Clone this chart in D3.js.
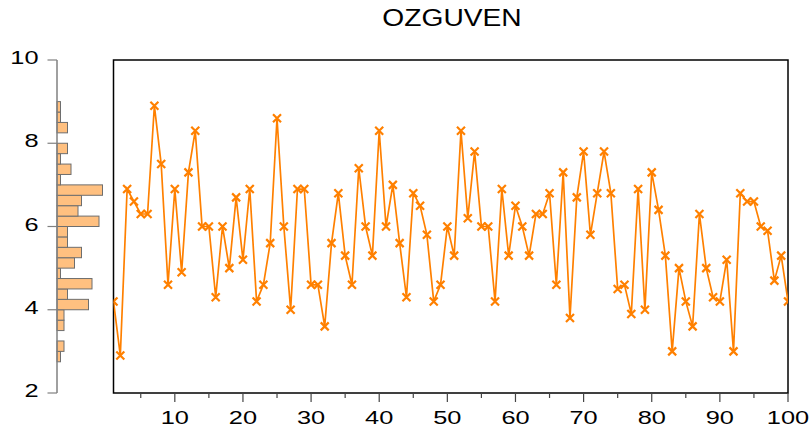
<!DOCTYPE html>
<html>
<head>
<meta charset="utf-8">
<script src="https://cdn.jsdelivr.net/npm/d3@7"></script>
<style>
  body { margin: 0; background: #fff; }
  text { font-family: "Liberation Sans", Arial, sans-serif; fill: #000; }
</style>
</head>
<body>
<script>
const TITLE = "OZGUVEN";

const ozguven = [
  4.2, 2.9, 6.9, 6.6, 6.3, 6.3, 8.9, 7.5, 4.6, 6.9,
  4.9, 7.3, 8.3, 6.0, 6.0, 4.3, 6.0, 5.0, 6.7, 5.2,
  6.9, 4.2, 4.6, 5.6, 8.6, 6.0, 4.0, 6.9, 6.9, 4.6,
  4.6, 3.6, 5.6, 6.8, 5.3, 4.6, 7.4, 6.0, 5.3, 8.3,
  6.0, 7.0, 5.6, 4.3, 6.8, 6.5, 5.8, 4.2, 4.6, 6.0,
  5.3, 8.3, 6.2, 7.8, 6.0, 6.0, 4.2, 6.9, 5.3, 6.5,
  6.0, 5.3, 6.3, 6.3, 6.8, 4.6, 7.3, 3.8, 6.7, 7.8,
  5.8, 6.8, 7.8, 6.8, 4.5, 4.6, 3.9, 6.9, 4.0, 7.3,
  6.4, 5.3, 3.0, 5.0, 4.2, 3.6, 6.3, 5.0, 4.3, 4.2,
  5.2, 3.0, 6.8, 6.6, 6.6, 6.0, 5.9, 4.7, 5.3, 4.2
];
const obs = ozguven.map((d, i) => i + 1);
const xTicksMajor = [10, 20, 30, 40, 50, 60, 70, 80, 90, 100];
const xTicksMinor = [5, 15, 25, 35, 45, 55, 65, 75, 85, 95];
const yTicks = [2, 4, 6, 8, 10];
const binThresholds = [2.75, 3, 3.25, 3.5, 3.75, 4, 4.25, 4.5, 4.75, 5, 5.25, 5.5, 5.75,
  6, 6.25, 6.5, 6.75, 7, 7.25, 7.5, 7.75, 8, 8.25, 8.5, 8.75, 9];

const W = 811, H = 436;
const box = { left: 113.5, right: 788, top: 60, bottom: 393 };
const histAxisX = 57;
const LINE_COLOR = "#ff8000";

const svg = d3.select("body").append("svg")
  .attr("width", W)
  .attr("height", H);

const x = d3.scaleLinear().domain([1, 100]).range([box.left, box.right]);
const y = d3.scaleLinear().domain([2, 10]).range([box.bottom, box.top]);

// title
svg.append("text")
  .attr("transform", "translate(452,26) scale(1.15,1)")
  .attr("text-anchor", "middle")
  .style("font-size", "24.5px")
  .text(TITLE);

// histogram on the left
const bins = d3.bin()
  .domain([binThresholds[0], binThresholds[binThresholds.length - 1]])
  .thresholds(binThresholds)(ozguven);
const count = d3.scaleLinear()
  .domain([0, 13])
  .range([0, 45.5]);

svg.append("g")
  .selectAll("rect")
  .data(bins.filter(b => b.length > 0))
  .enter()
  .append("rect")
  .attr("x", histAxisX)
  .attr("y", d => y(d.x1))
  .attr("width", d => count(d.length))
  .attr("height", d => y(d.x0) - y(d.x1))
  .style("fill", "#ffc080")
  .style("stroke", "#6e6e6e")
  .style("stroke-width", 1);

// histogram value axis
const yAxis = svg.append("g");
yAxis.append("line")
  .attr("x1", histAxisX).attr("x2", histAxisX)
  .attr("y1", y(10)).attr("y2", y(2))
  .style("stroke", "#808080")
  .style("stroke-width", 1.5);
yAxis.selectAll(".ytick")
  .data(yTicks)
  .enter()
  .append("line")
  .attr("class", "ytick")
  .attr("x1", 47.5).attr("x2", histAxisX)
  .attr("y1", d => y(d)).attr("y2", d => y(d))
  .style("stroke", "#808080")
  .style("stroke-width", 1.2);
yAxis.selectAll(".ylab")
  .data(yTicks)
  .enter()
  .append("text")
  .attr("class", "ylab")
  .attr("transform", d => "translate(38.5," + (y(d) + 4) + ") scale(1.45,1)")
  .attr("text-anchor", "end")
  .style("font-size", "17.5px")
  .text(d => d);

// plot box
svg.append("rect")
  .attr("x", box.left)
  .attr("y", box.top)
  .attr("width", box.right - box.left)
  .attr("height", box.bottom - box.top)
  .style("fill", "none")
  .style("stroke", "#000")
  .style("stroke-width", 1.5);

// x axis ticks under the box
const xAxis = svg.append("g");
xAxis.selectAll(".xmaj")
  .data(xTicksMajor)
  .enter()
  .append("line")
  .attr("x1", d => x(d)).attr("x2", d => x(d))
  .attr("y1", box.bottom).attr("y2", box.bottom + 9)
  .style("stroke", "#444")
  .style("stroke-width", 1.2);
xAxis.selectAll(".xmin")
  .data(xTicksMinor)
  .enter()
  .append("line")
  .attr("x1", d => x(d)).attr("x2", d => x(d))
  .attr("y1", box.bottom).attr("y2", box.bottom + 5)
  .style("stroke", "#444")
  .style("stroke-width", 1.2);
xAxis.selectAll(".xlab")
  .data(xTicksMajor)
  .enter()
  .append("text")
  .attr("transform", d => "translate(" + x(d) + ",424) scale(1.45,1)")
  .attr("text-anchor", "middle")
  .style("font-size", "17.5px")
  .text(d => d);

// series
svg.append("clipPath")
  .attr("id", "plotclip")
  .append("rect")
  .attr("x", box.left)
  .attr("y", box.top)
  .attr("width", box.right - box.left)
  .attr("height", box.bottom - box.top);

const plot = svg.append("g").attr("clip-path", "url(#plotclip)");
const line = d3.line()
  .x((d, i) => x(obs[i]))
  .y(d => y(d));

plot.append("path")
  .datum(ozguven)
  .attr("d", line)
  .style("fill", "none")
  .style("stroke", LINE_COLOR)
  .style("stroke-width", 1.7);

const m = 4;
plot.selectAll(".mark")
  .data(ozguven)
  .enter()
  .append("path")
  .attr("class", "mark")
  .attr("transform", (d, i) => "translate(" + x(obs[i]) + "," + y(d) + ")")
  .attr("d", "M" + (-m) + "," + (-m) + "L" + m + "," + m + "M" + (-m) + "," + m + "L" + m + "," + (-m))
  .style("stroke", LINE_COLOR)
  .style("stroke-width", 2.2);
</script>
</body>
</html>
